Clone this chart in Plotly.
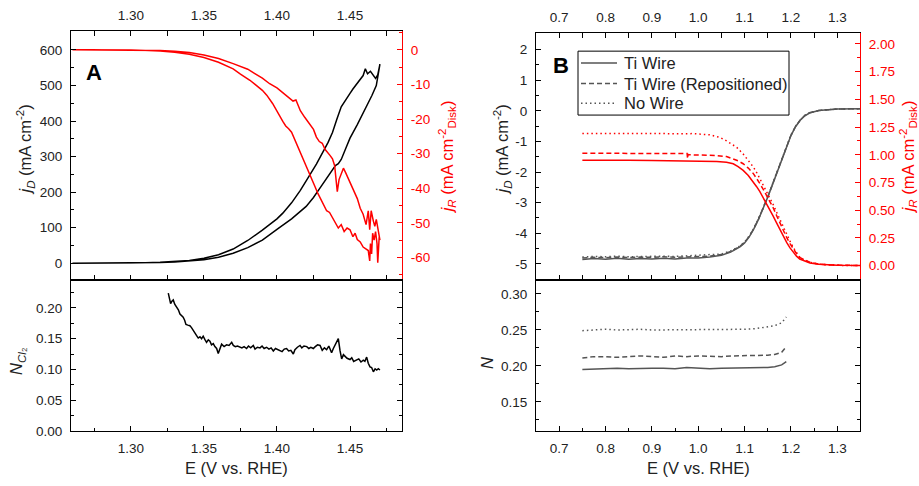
import plotly.graph_objects as go

FONT = "Liberation Sans, Arial, sans-serif"
RED = "#ff0000"
GRAY = "#555555"
W, H = 919, 486

# ---------------- Panel A : disk / ring currents, Cl2 collection ----------------
# disk current, forward sweep
a_E_fwd = [1.260, 1.280, 1.300, 1.310, 1.320, 1.330, 1.340, 1.350, 1.360, 1.370,
           1.380, 1.390, 1.400, 1.410, 1.420, 1.425, 1.430, 1.435, 1.440, 1.442,
           1.444, 1.447, 1.450, 1.455, 1.460, 1.465, 1.468, 1.4705]
a_jD_fwd = [0, 0.1, 0.5, 1, 2, 3.5, 6, 10, 17, 28,
            44, 65, 95, 125, 160, 185, 215, 245, 275, 280,
            292, 322, 352, 390, 430, 472, 500, 560]
# disk current, reverse sweep
a_E_rev = [1.469, 1.4675, 1.466, 1.464, 1.462, 1.4605, 1.459, 1.457, 1.455, 1.452,
           1.450, 1.447, 1.444, 1.441, 1.438, 1.435, 1.430, 1.427, 1.420, 1.416,
           1.410, 1.404, 1.400, 1.390, 1.380, 1.370, 1.360, 1.350, 1.340, 1.330,
           1.320, 1.310, 1.300, 1.280, 1.260]
a_jD_rev = [530, 520, 528, 540, 533, 547, 528, 518, 508, 490,
            478, 460, 440, 405, 368, 340, 300, 279, 232, 205,
            170, 141, 125, 93, 64, 40, 24, 14, 8, 4.5,
            2.5, 1.2, 0.6, 0.2, 0]

# ring current, forward sweep
a_Er_fwd = [1.260, 1.300, 1.310, 1.320, 1.330, 1.340, 1.350, 1.360, 1.370, 1.380,
            1.390, 1.395, 1.400, 1.405, 1.409, 1.411, 1.413, 1.416, 1.419, 1.4226,
            1.425, 1.427, 1.429, 1.431, 1.433, 1.4363, 1.438, 1.4395, 1.4413, 1.4425,
            1.4440, 1.4455, 1.447, 1.449, 1.451, 1.453, 1.455, 1.457, 1.459, 1.461,
            1.4625, 1.4635, 1.4645, 1.466, 1.467, 1.468, 1.4695, 1.4705]
a_jR_fwd = [0, 0, -0.1, -0.2, -0.4, -0.8, -1.5, -2.5, -4.0, -5.6,
            -8.2, -9.8, -11.0, -12.8, -14.0, -14.8, -14.5, -17.6, -19.5, -21.8,
            -23.0, -25.2, -26.5, -27.0, -28.8, -30.5, -31.5, -33.5, -41.0, -37.5,
            -36.0, -34.2, -35.5, -37.5, -39.0, -41.5, -43.0, -45.8, -47.5, -50.5,
            -46.5, -52.0, -46.5, -49.5, -51.0, -49.0, -53.5, -55.0]
# ring current, reverse sweep
a_Er_rev = [1.4700, 1.4690, 1.4685, 1.4675, 1.4665, 1.4655, 1.4648, 1.4640, 1.4635, 1.4625,
            1.461, 1.459, 1.457, 1.455, 1.4535, 1.452, 1.450, 1.448, 1.446, 1.444,
            1.442, 1.440, 1.4385, 1.436, 1.434, 1.432, 1.430, 1.428, 1.426, 1.424,
            1.422, 1.420, 1.418, 1.416, 1.413, 1.410, 1.408, 1.406, 1.404, 1.402,
            1.400, 1.397, 1.393, 1.390, 1.385, 1.3815, 1.375, 1.370, 1.360, 1.350,
            1.340, 1.330, 1.320, 1.310, 1.300, 1.260]
a_jR_rev = [-54.0, -61.5, -56.0, -52.5, -55.0, -53.0, -59.0, -56.0, -61.0, -58.0,
            -57.5, -57.0, -55.5, -54.8, -53.0, -54.0, -52.0, -51.5, -52.5, -50.5,
            -51.5, -50.0, -48.5, -47.0, -46.5, -44.8, -43.5, -41.5, -39.5, -37.5,
            -35.5, -33.5, -31.5, -29.3, -26.5, -23.8, -22.8, -22.0, -20.7, -19.2,
            -17.5, -15.5, -13.1, -11.7, -10.0, -8.8, -7.0, -5.5, -3.6, -2.2,
            -1.3, -0.7, -0.35, -0.15, -0.05, 0]

# Cl2 collection efficiency
a_E_N = [1.3256, 1.3265, 1.3272, 1.3281, 1.3290, 1.3300, 1.3313, 1.3325, 1.3336, 1.3347,
         1.3358, 1.3368, 1.3377, 1.3390, 1.3404, 1.3415, 1.3427, 1.3438, 1.3450, 1.3461,
         1.3473, 1.3484, 1.3495, 1.3506, 1.3518, 1.3530, 1.3541, 1.3552, 1.3564, 1.3575,
         1.3587, 1.3598, 1.3610, 1.3621, 1.3638, 1.3655, 1.3672, 1.3690, 1.3701, 1.3715,
         1.3730, 1.3747, 1.3760, 1.3775, 1.3792, 1.3805, 1.3820, 1.3838, 1.3850, 1.3866,
         1.3884, 1.3898, 1.3912, 1.3929, 1.3945, 1.3960, 1.3975, 1.3990, 1.4005, 1.4021,
         1.4035, 1.4050, 1.4066, 1.4080, 1.4095, 1.4112, 1.4123, 1.4140, 1.4158, 1.4170,
         1.4185, 1.4204, 1.4218, 1.4232, 1.4249, 1.4262, 1.4278, 1.4295, 1.4310, 1.4325,
         1.4340, 1.4355, 1.4374, 1.4386, 1.4400, 1.4420, 1.4432, 1.4443, 1.4455, 1.4466,
         1.4480, 1.4500, 1.4512, 1.4525, 1.4546, 1.4560, 1.4575, 1.4591, 1.4602, 1.4614,
         1.4625, 1.4637, 1.4648, 1.4660, 1.4672, 1.4683, 1.4694, 1.4705]
a_N_cl2 = [0.224, 0.215, 0.207, 0.211, 0.213, 0.206, 0.201, 0.197, 0.190, 0.188,
           0.185, 0.180, 0.173, 0.172, 0.171, 0.168, 0.163, 0.158, 0.155, 0.151,
           0.153, 0.150, 0.154, 0.149, 0.144, 0.148, 0.146, 0.140, 0.142, 0.137,
           0.134, 0.126, 0.136, 0.141, 0.137, 0.140, 0.139, 0.144, 0.139, 0.137,
           0.138, 0.137, 0.135, 0.137, 0.134, 0.138, 0.135, 0.139, 0.133, 0.136,
           0.135, 0.138, 0.134, 0.136, 0.133, 0.135, 0.130, 0.134, 0.132, 0.131,
           0.129, 0.133, 0.134, 0.130, 0.131, 0.125, 0.132, 0.136, 0.139, 0.135,
           0.138, 0.137, 0.134, 0.136, 0.134, 0.137, 0.140, 0.139, 0.131, 0.135,
           0.132, 0.138, 0.127, 0.134, 0.141, 0.150, 0.130, 0.117, 0.124, 0.121,
           0.118, 0.116, 0.119, 0.113, 0.115, 0.117, 0.112, 0.115, 0.113, 0.120,
           0.110, 0.104, 0.103, 0.096, 0.101, 0.099, 0.101, 0.099]

# ---------------- Panel B : ring collection with / without Ti wire ----------------
series_names = ["Ti Wire", "Ti Wire (Repositioned)", "No Wire"]
series_dash = ["solid", "5px,3px", "1.5px,3px"]

b_E_disk = [0.75, 0.775, 0.80, 0.825, 0.85, 0.875, 0.90, 0.925, 0.95, 0.975,
            1.00, 1.025, 1.05, 1.07, 1.09, 1.10, 1.11, 1.12, 1.13, 1.14,
            1.15, 1.16, 1.17, 1.18, 1.19, 1.20, 1.21, 1.22, 1.23, 1.24,
            1.26, 1.28, 1.30, 1.35]
b_jD_ti = [-4.86, -4.83, -4.85, -4.82, -4.85, -4.83, -4.84, -4.82, -4.84, -4.81,
           -4.81, -4.78, -4.72, -4.62, -4.45, -4.32, -4.12, -3.86, -3.55, -3.20,
           -2.82, -2.42, -2.00, -1.58, -1.17, -0.81, -0.52, -0.31, -0.16, -0.07,
           0.01, 0.04, 0.06, 0.07]
b_jD_repos = [-4.81, -4.79, -4.80, -4.78, -4.80, -4.78, -4.79, -4.77, -4.79, -4.77,
              -4.77, -4.75, -4.70, -4.60, -4.43, -4.30, -4.10, -3.85, -3.54, -3.19,
              -2.81, -2.41, -1.99, -1.57, -1.16, -0.80, -0.51, -0.30, -0.15, -0.06,
              0.01, 0.04, 0.06, 0.07]
b_jD_nowire = [-4.78, -4.76, -4.77, -4.75, -4.77, -4.76, -4.77, -4.75, -4.76, -4.74,
               -4.74, -4.72, -4.68, -4.58, -4.42, -4.29, -4.09, -3.84, -3.53, -3.18,
               -2.80, -2.40, -1.98, -1.56, -1.15, -0.79, -0.50, -0.30, -0.15, -0.06,
               0.01, 0.04, 0.06, 0.07]

b_E_ring_ti = [0.75, 0.80, 0.85, 0.90, 0.95, 1.00, 1.04, 1.061, 1.0755, 1.086,
               1.097, 1.108, 1.119, 1.126, 1.133, 1.140, 1.147, 1.155, 1.162, 1.169,
               1.176, 1.183, 1.191, 1.198, 1.205, 1.212, 1.219, 1.23, 1.241, 1.26,
               1.277, 1.30, 1.35]
b_jR_ti = [0.950, 0.947, 0.950, 0.948, 0.947, 0.946, 0.940, 0.932, 0.919, 0.893,
           0.859, 0.812, 0.756, 0.712, 0.667, 0.615, 0.563, 0.503, 0.444, 0.385,
           0.326, 0.265, 0.207, 0.160, 0.119, 0.085, 0.059, 0.038, 0.024, 0.011,
           0.006, 0.002, 0.0]
b_E_ring_repos = [0.75, 0.80, 0.85, 0.90, 0.95, 0.976, 0.977, 0.978, 0.98, 1.00,
                  1.04, 1.061, 1.0755, 1.086, 1.097, 1.108, 1.119, 1.126, 1.133, 1.140,
                  1.147, 1.155, 1.162, 1.169, 1.176, 1.183, 1.191, 1.198, 1.205, 1.212,
                  1.219, 1.23, 1.241, 1.26, 1.277, 1.30, 1.35]
b_jR_repos = [1.013, 1.012, 1.013, 1.012, 1.011, 1.012, 0.965, 1.003, 1.000, 0.999,
              0.993, 0.984, 0.963, 0.945, 0.919, 0.880, 0.830, 0.788, 0.740, 0.690,
              0.637, 0.578, 0.519, 0.452, 0.385, 0.318, 0.252, 0.198, 0.148, 0.108,
              0.074, 0.048, 0.030, 0.013, 0.006, 0.002, 0.0]
b_E_ring_nowire = [0.75, 0.80, 0.85, 0.90, 0.95, 0.989, 1.025, 1.047, 1.061, 1.072,
                   1.083, 1.097, 1.108, 1.119, 1.126, 1.133, 1.140, 1.147, 1.155, 1.162,
                   1.169, 1.176, 1.183, 1.191, 1.198, 1.205, 1.212, 1.219, 1.23, 1.241,
                   1.26, 1.277, 1.30, 1.35]
b_jR_nowire = [1.192, 1.194, 1.191, 1.192, 1.190, 1.191, 1.180, 1.156, 1.126, 1.098,
               1.067, 1.007, 0.950, 0.889, 0.840, 0.785, 0.727, 0.667, 0.607, 0.548,
               0.482, 0.415, 0.348, 0.281, 0.220, 0.163, 0.115, 0.074, 0.048, 0.030,
               0.013, 0.006, 0.002, 0.0]

b_E_N = [0.75, 0.775, 0.80, 0.825, 0.85, 0.875, 0.90, 0.925, 0.95, 0.975,
         1.00, 1.025, 1.05, 1.075, 1.10, 1.125, 1.15, 1.165, 1.18, 1.19]
b_N_ti = [0.195, 0.196, 0.196, 0.197, 0.196, 0.197, 0.197, 0.197, 0.196, 0.198,
          0.197, 0.196, 0.197, 0.197, 0.197, 0.197, 0.198, 0.199, 0.2015, 0.206]
b_N_repos = [0.211, 0.213, 0.213, 0.212, 0.213, 0.214, 0.213, 0.212, 0.214, 0.213,
             0.214, 0.213, 0.213, 0.214, 0.214, 0.214, 0.215, 0.216, 0.219, 0.227]
b_N_nowire = [0.249, 0.250, 0.251, 0.250, 0.251, 0.251, 0.250, 0.250, 0.251, 0.251,
              0.250, 0.251, 0.250, 0.251, 0.251, 0.252, 0.254, 0.256, 0.260, 0.268]

# tick labels written with a plain hyphen
a_jR_ticks = [0, -10, -20, -30, -40, -50, -60]
a_jR_ticktext = ["0", "-10", "-20", "-30", "-40", "-50", "-60"]
b_jD_ticks = [2, 1, 0, -1, -2, -3, -4, -5]
b_jD_ticktext = ["2", "1", "0", "-1", "-2", "-3", "-4", "-5"]


def px_x(p):
    return p / W


def px_y(p):
    return 1 - p / H


fig = go.Figure()

# Panel A traces
fig.add_trace(go.Scatter(x=a_E_fwd + a_E_rev, y=a_jD_fwd + a_jD_rev, mode="lines",
                         line=dict(color="black", width=1.5), xaxis="x", yaxis="y"))
fig.add_trace(go.Scatter(x=a_Er_fwd + a_Er_rev, y=a_jR_fwd + a_jR_rev, mode="lines",
                         line=dict(color=RED, width=1.5), xaxis="x", yaxis="y2"))
fig.add_trace(go.Scatter(x=a_E_N, y=a_N_cl2, mode="lines",
                         line=dict(color="black", width=1.5), xaxis="x2", yaxis="y3"))

# Panel B traces
disk = [b_jD_ti, b_jD_repos, b_jD_nowire]
ring_E = [b_E_ring_ti, b_E_ring_repos, b_E_ring_nowire]
ring = [b_jR_ti, b_jR_repos, b_jR_nowire]
coll = [b_N_ti, b_N_repos, b_N_nowire]
for name, dash, jd, er, jr, nn in zip(series_names, series_dash, disk, ring_E, ring, coll):
    fig.add_trace(go.Scatter(x=er, y=jr, mode="lines", line=dict(color=RED, width=1.5, dash=dash),
                             xaxis="x3", yaxis="y5"))
    fig.add_trace(go.Scatter(x=b_E_disk, y=jd, mode="lines", name=name,
                             line=dict(color=GRAY, width=1.5, dash=dash),
                             xaxis="x3", yaxis="y4"))
    fig.add_trace(go.Scatter(x=b_E_N, y=nn, mode="lines", line=dict(color=GRAY, width=1.5, dash=dash),
                             xaxis="x4", yaxis="y6"))


def axis(color="black", minor_dtick=None, **kw):
    d = dict(showgrid=False, zeroline=False, showline=True, linecolor=color, linewidth=1,
             ticks="inside", ticklen=5, tickwidth=1, tickcolor=color,
             tickfont=dict(family=FONT, size=13.5, color="#222" if color == "black" else color),
             ticklabelstandoff=5)
    if minor_dtick is not None:
        d["minor"] = dict(ticks="inside", ticklen=3, tickwidth=1, tickcolor=color,
                          showgrid=False, tickmode="linear", tick0=0, dtick=minor_dtick)
    d.update(kw)
    return d


A_X = [px_x(71), px_x(402)]
B_X = [px_x(536), px_x(860)]
A_TOP = [px_y(285), px_y(32)]
B_TOP = [px_y(285), px_y(34)]
BOT = [px_y(438), px_y(285)]
A_RANGE = [1.259, 1.4856]
B_RANGE = [0.65, 1.349]

fig.update_layout(
    width=W, height=H,
    margin=dict(l=0, r=0, t=0, b=0),
    paper_bgcolor="white", plot_bgcolor="white",
    font=dict(family=FONT, color="#222"),
    showlegend=False,
    xaxis=axis(domain=A_X, anchor="y", side="top", mirror="allticks", range=A_RANGE,
               dtick=0.05, tick0=0, tickformat=".2f", minor_dtick=0.025),
    yaxis=axis(domain=A_TOP, anchor="x", range=[-48, 652], dtick=100, tick0=0, minor_dtick=50),
    yaxis2=axis(color=RED, overlaying="y", side="right", anchor="x", range=[-66.6, 5.3],
                tickmode="array", tickvals=a_jR_ticks, ticktext=a_jR_ticktext, minor_dtick=5),
    xaxis2=axis(domain=A_X, anchor="y3", mirror=True, range=A_RANGE,
                dtick=0.05, tick0=0, tickformat=".2f", minor_dtick=0.025),
    yaxis3=axis(domain=BOT, anchor="x2", mirror="allticks", range=[0, 0.245],
                dtick=0.05, tick0=0, tickformat=".2f", minor_dtick=0.025),
    xaxis3=axis(domain=B_X, anchor="y4", side="top", mirror="allticks", range=B_RANGE,
                dtick=0.1, tick0=0, tickformat=".1f", minor_dtick=0.05),
    yaxis4=axis(domain=B_TOP, anchor="x3", range=[-5.54, 2.53],
                tickmode="array", tickvals=b_jD_ticks, ticktext=b_jD_ticktext, minor_dtick=0.5),
    yaxis5=axis(color=RED, overlaying="y4", side="right", anchor="x3", range=[-0.133, 2.095],
                dtick=0.25, tick0=0, tickformat=".2f", minor_dtick=0.125),
    xaxis4=axis(domain=B_X, anchor="y6", mirror=True, range=B_RANGE,
                dtick=0.1, tick0=0, tickformat=".1f", minor_dtick=0.05),
    yaxis6=axis(domain=BOT, anchor="x4", mirror="allticks", range=[0.11, 0.319],
                dtick=0.05, tick0=0, tickformat=".2f", minor_dtick=0.025),
)

# Legend box for panel B (boxed key with line samples)
fig.add_shape(type="rect", xref="paper", yref="paper",
              x0=px_x(578), x1=px_x(789), y0=px_y(117), y1=px_y(52),
              line=dict(color="black", width=1), fillcolor="white", layer="above")
key_rows = [64, 85, 105]
for name, dash, yy in zip(series_names, series_dash, key_rows):
    fig.add_shape(type="line", xref="paper", yref="paper",
                  x0=px_x(581), x1=px_x(617), y0=px_y(yy), y1=px_y(yy),
                  line=dict(color=GRAY, width=1.5, dash=dash), layer="above")
    fig.add_annotation(text=name, x=px_x(622), y=px_y(yy), xref="paper", yref="paper",
                       xanchor="left", yanchor="middle", showarrow=False,
                       font=dict(family=FONT, size=16.5, color="#222"))

title_font = dict(family=FONT, size=16.5, color="#222")
red_font = dict(family=FONT, size=16.5, color=RED)
labels = [
    ("<i>j</i><sub><i>D</i></sub> (mA cm<sup>-2</sup>)", 26, 152, -90, title_font),
    ("<i>j</i><sub><i>R</i></sub> (mA cm<sup>-2</sup><sub>Disk</sub>)", 447, 160, -90, red_font),
    ("<i>N</i><sub><i>Cl</i>\u2082</sub>", 17, 368, -90, title_font),
    ("E (V vs. RHE)", 236.5, 476, 0, title_font),
    ("<i>j</i><sub><i>D</i></sub> (mA cm<sup>-2</sup>)", 503, 152, -90, title_font),
    ("<i>j</i><sub><i>R</i></sub> (mA cm<sup>-2</sup><sub>Disk</sub>)", 908, 160, -90, red_font),
    ("<i>N</i>", 487, 369, -90, title_font),
    ("E (V vs. RHE)", 698, 476, 0, title_font),
    ("<b>A</b>", 94, 74, 0, dict(family=FONT, size=22, color="black")),
    ("<b>B</b>", 561, 67, 0, dict(family=FONT, size=22, color="black")),
]
for text, x, y, ang, f in labels:
    fig.add_annotation(text=text, x=px_x(x), y=px_y(y), xref="paper", yref="paper",
                       xanchor="center", yanchor="middle", textangle=ang,
                       showarrow=False, font=f)

fig.write_html("out.html")
